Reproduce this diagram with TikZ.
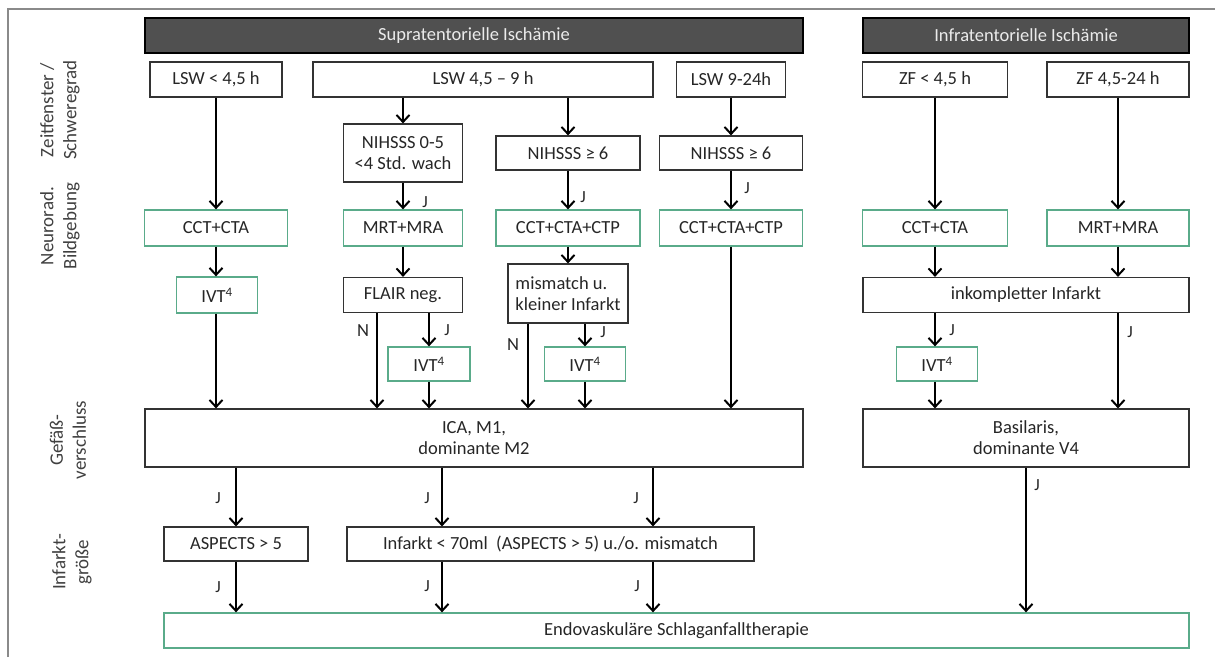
\documentclass[tikz,border=0pt]{standalone}
\usepackage{fontspec}
\setmainfont{Carlito}
\usetikzlibrary{arrows.meta}

\definecolor{frame}{HTML}{8A8A8A}
\definecolor{headfill}{HTML}{505050}
\definecolor{grn}{HTML}{5AAB8A}
\definecolor{txt}{HTML}{262626}

\begin{document}
\begin{tikzpicture}[x=1pt, y=-1pt,
  font=\fontsize{18.5}{21}\selectfont, text=txt,
  box/.style={draw=black!80, line width=1.2pt, inner sep=2pt},
  gbox/.style={draw=grn, line width=1.3pt, inner sep=2pt},
  head/.style={draw=black, fill=headfill, line width=1.2pt, text=black!8, minimum height=35pt},
  axis/.style={rotate=90, align=center, font=\fontsize{19}{23}\selectfont, text=black!75},
  arr/.style={line width=2pt, -{Straight Barb[length=7pt, width=13pt, line width=2pt]}},
  lbl/.style={font=\fontsize{17}{18}\selectfont, inner sep=0pt}]
\useasboundingbox (0,0) rectangle (1215,657);
\draw[frame, line width=2pt] (8,657) -- (8,9) -- (1215,9);

% Achsenbeschriftung
\node[axis] (axZeit) at (60,110) {Zeitfenster /\\Schweregrad};
\node[axis] (axBild) at (60,226) {Neurorad.\\Bildgebung};
\node[axis] (axGef) at (68,440) {Gefäß-\\verschluss};
\node[axis] (axInf) at (72,562) {Infarkt-\\größe};

% Kopfzeilen
\node[head, minimum width=658pt] (supra) at (474,35.5) {Supratentorielle Ischämie};
\node[head, minimum width=326pt] (infra) at (1026,35.5) {Infratentorielle Ischämie};

% Zeitfenster
\node[box, minimum width=132pt, minimum height=35pt] (lswA) at (216,79.5) {LSW < 4,5 h};
\node[box, minimum width=340pt, minimum height=35pt] (lswB) at (483,79.5) {LSW 4,5 – 9 h};
\node[box, minimum width=109pt, minimum height=35pt] (lswC) at (731,79.5) {LSW 9-24h};
\node[box, minimum width=145pt, minimum height=35pt] (zfA) at (935,79.5) {ZF < 4,5 h};
\node[box, minimum width=142pt, minimum height=35pt] (zfB) at (1118,79.5) {ZF 4,5-24 h};

\node[box, minimum width=119pt, minimum height=58pt, align=center] (nihA) at (403,153) {NIHSSS 0-5\\<4 Std. wach};
\node[box, minimum width=144pt, minimum height=34pt] (nihB) at (568,153) {NIHSSS ≥ 6};
\node[box, minimum width=143pt, minimum height=34pt] (nihC) at (731,153) {NIHSSS ≥ 6};

% Bildgebung
\node[gbox, minimum width=143pt, minimum height=36pt] (cctA) at (216,228) {CCT+CTA};
\node[gbox, minimum width=119pt, minimum height=36pt] (mrtA) at (403,228) {MRT+MRA};
\node[gbox, minimum width=144pt, minimum height=36pt] (cctB) at (568,228) {CCT+CTA+CTP};
\node[gbox, minimum width=143pt, minimum height=36pt] (cctC) at (731,228) {CCT+CTA+CTP};
\node[gbox, minimum width=145pt, minimum height=36pt] (cctD) at (935,228) {CCT+CTA};
\node[gbox, minimum width=142pt, minimum height=36pt] (mrtB) at (1118,228) {MRT+MRA};

\node[gbox, minimum width=81pt, minimum height=36pt] (ivtA) at (217,295) {IVT\textsuperscript{4}};
\node[box, minimum width=119pt, minimum height=35pt] (flair) at (403,295) {FLAIR neg.};
\node[box, minimum width=120pt, minimum height=59pt, align=left] (mism) at (568,293.5) {mismatch u.\\kleiner Infarkt};
\node[box, minimum width=326pt, minimum height=35pt] (inkomp) at (1026,295) {inkompletter Infarkt};

\node[gbox, minimum width=82pt, minimum height=34pt] (ivtB) at (429,364) {IVT\textsuperscript{4}};
\node[gbox, minimum width=81pt, minimum height=34pt] (ivtC) at (585,364) {IVT\textsuperscript{4}};
\node[gbox, minimum width=81pt, minimum height=34pt] (ivtD) at (937,364) {IVT\textsuperscript{4}};

% Gefaessverschluss und Infarktgroesse
\node[box, minimum width=658pt, minimum height=58pt, align=center] (ica) at (474,438) {ICA, M1,\\dominante M2};
\node[box, minimum width=326pt, minimum height=58pt, align=center] (basil) at (1026,438) {Basilaris,\\dominante V4};

\node[box, minimum width=144pt, minimum height=34pt] (aspects) at (236,544) {ASPECTS > 5};
\node[box, minimum width=407pt, minimum height=34pt] (infarkt) at (550.5,544) {Infarkt < 70ml \ (ASPECTS > 5) u./o. mismatch};

\node[gbox, minimum width=1025pt, minimum height=35pt] (endo) at (676.5,630.5) {Endovaskuläre Schlaganfalltherapie};

% Hilfspunkte fuer die Pfeile
\coordinate (xN1) at (377,0);
\coordinate (xN2) at (528,0);
\coordinate (xI1) at (442,0);
\coordinate (xI2) at (653,0);

% Pfeile supratentoriell
\draw[arr] (lswA) -- (cctA);
\draw[arr] (cctA.south -| lswA) -- (ivtA.north -| lswA);
\draw[arr] (ivtA.south -| lswA) -- (ica.north -| lswA);
\draw[arr] (lswB.south -| nihA) -- (nihA);
\draw[arr] (nihA) -- (mrtA);
\draw[arr] (mrtA) -- (flair);
\draw[arr] (flair.south -| xN1) -- (ica.north -| xN1);
\draw[arr] (flair.south -| ivtB) -- (ivtB);
\draw[arr] (ivtB) -- (ica.north -| ivtB);
\draw[arr] (lswB.south -| nihB) -- (nihB);
\draw[arr] (nihB) -- (cctB);
\draw[arr] (cctB) -- (mism);
\draw[arr] (mism.south -| xN2) -- (ica.north -| xN2);
\draw[arr] (mism.south -| ivtC) -- (ivtC);
\draw[arr] (ivtC) -- (ica.north -| ivtC);
\draw[arr] (lswC) -- (nihC);
\draw[arr] (nihC) -- (cctC);
\draw[arr] (cctC) -- (ica.north -| cctC);

% Pfeile infratentoriell
\draw[arr] (zfA) -- (cctD);
\draw[arr] (zfB) -- (mrtB);
\draw[arr] (cctD) -- (inkomp.north -| cctD);
\draw[arr] (mrtB) -- (inkomp.north -| mrtB);
\draw[arr] (inkomp.south -| cctD) -- (ivtD.north -| cctD);
\draw[arr] (inkomp.south -| mrtB) -- (basil.north -| mrtB);
\draw[arr] (ivtD.south -| cctD) -- (basil.north -| cctD);

% Pfeile unten
\draw[arr] (ica.south -| aspects) -- (aspects);
\draw[arr] (ica.south -| xI1) -- (infarkt.north -| xI1);
\draw[arr] (ica.south -| xI2) -- (infarkt.north -| xI2);
\draw[arr] (aspects) -- (endo.north -| aspects);
\draw[arr] (infarkt.south -| xI1) -- (endo.north -| xI1);
\draw[arr] (infarkt.south -| xI2) -- (endo.north -| xI2);
\draw[arr] (basil) -- (endo.north -| basil);

% J / N
\node[lbl] (j1) at (425,202) {J};
\node[lbl] (j2) at (583,197) {J};
\node[lbl] (j3) at (747,188) {J};
\node[lbl] (j4) at (447,330) {J};
\node[lbl, font=\fontsize{18.5}{19}\selectfont] (n1) at (363,331) {N};
\node[lbl] (j5) at (603,332) {J};
\node[lbl, font=\fontsize{18.5}{19}\selectfont] (n2) at (513,345) {N};
\node[lbl] (j6) at (952,330) {J};
\node[lbl] (j7) at (1130,332) {J};
\node[lbl] (j8) at (218,498) {J};
\node[lbl] (j9) at (427,498) {J};
\node[lbl] (j10) at (636,498) {J};
\node[lbl] (j11) at (218,587) {J};
\node[lbl] (j12) at (427,586) {J};
\node[lbl] (j13) at (637,586) {J};
\node[lbl] (j14) at (1037,485) {J};
\end{tikzpicture}
\end{document}
